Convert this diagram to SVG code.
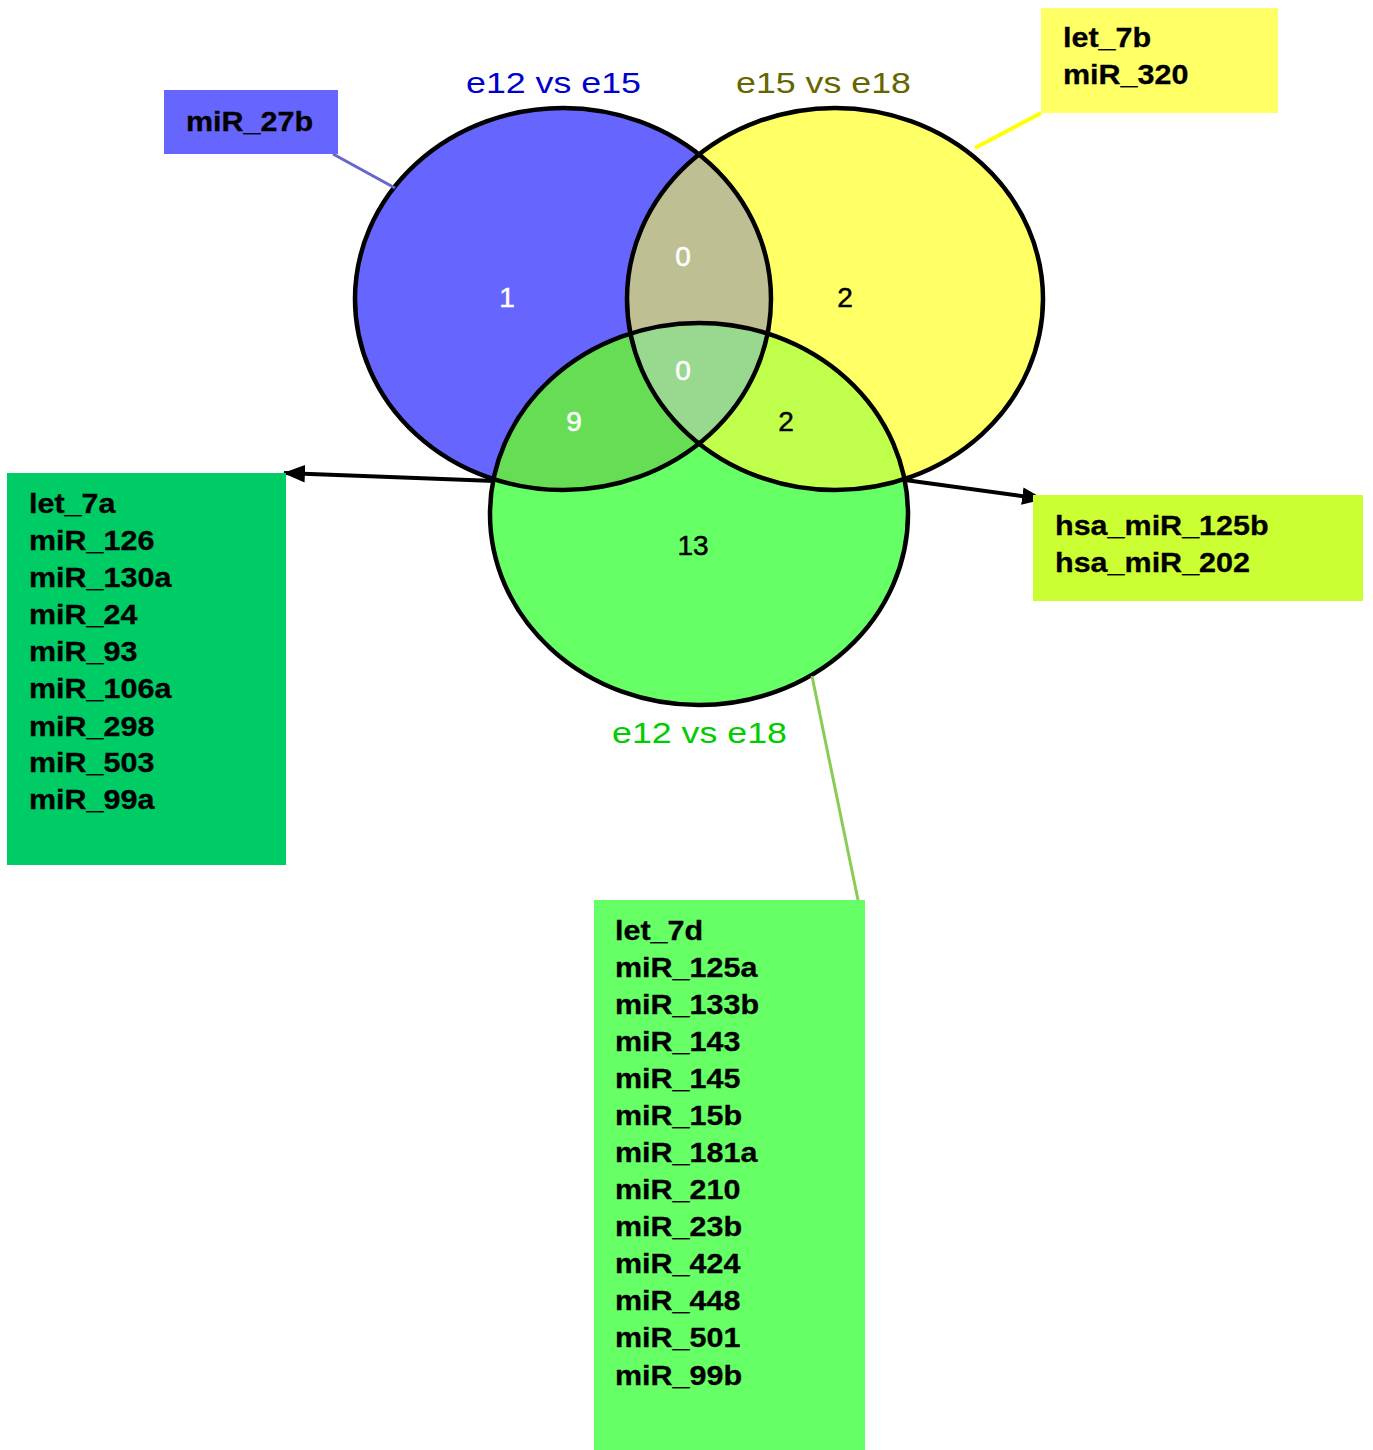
<svg xmlns="http://www.w3.org/2000/svg" width="1373" height="1450" viewBox="0 0 1373 1450">
<style>
.lbl{font-family:"Liberation Sans",Arial,sans-serif;font-weight:bold;font-size:28px;fill:#000;stroke:#000;stroke-width:0.3}
.vl{font-family:"Liberation Sans",Arial,sans-serif;font-size:30px}
.num{font-family:"Liberation Sans",Arial,sans-serif;font-size:28px;text-anchor:middle;stroke-width:0.5}
.ring{fill:none;stroke:#000;stroke-width:4.5}
</style>
<defs>
<clipPath id="cb"><ellipse cx="563" cy="299" rx="208" ry="191"/></clipPath>
<clipPath id="cy"><ellipse cx="835" cy="299" rx="208" ry="191"/></clipPath>
<marker id="ah" viewBox="0 0 10 8" refX="9.5" refY="4" markerWidth="5.5" markerHeight="4.4" orient="auto">
<path d="M0,0 L10,4 L0,8 z" fill="#000"/>
</marker>
</defs>
<rect width="1373" height="1450" fill="#fff"/>
<g id="venn">
<ellipse cx="563" cy="299" rx="208" ry="191" fill="#6666ff"/>
<ellipse cx="835" cy="299" rx="208" ry="191" fill="#ffff66"/>
<ellipse cx="699" cy="514" rx="209" ry="191" fill="#66ff66"/>
<ellipse cx="835" cy="299" rx="208" ry="191" fill="#bfbf94" clip-path="url(#cb)"/>
<ellipse cx="699" cy="514" rx="209" ry="191" fill="#66dd55" clip-path="url(#cb)"/>
<ellipse cx="699" cy="514" rx="209" ry="191" fill="#c0ff4c" clip-path="url(#cy)"/>
<g clip-path="url(#cy)"><ellipse cx="699" cy="514" rx="209" ry="191" fill="#99d98f" clip-path="url(#cb)"/></g>
<ellipse class="ring" cx="563" cy="299" rx="208" ry="191"/>
<ellipse class="ring" cx="835" cy="299" rx="208" ry="191"/>
<ellipse class="ring" cx="699" cy="514" rx="209" ry="191"/>
<text class="num" x="507" y="307" fill="#fff" stroke="#fff">1</text>
<text class="num" x="683" y="266" fill="#fff" stroke="#fff">0</text>
<text class="num" x="845" y="307" fill="#000" stroke="#000">2</text>
<text class="num" x="683" y="380" fill="#fff" stroke="#fff">0</text>
<text class="num" x="574" y="431" fill="#fff" stroke="#fff">9</text>
<text class="num" x="786" y="431" fill="#000" stroke="#000">2</text>
<text class="num" x="693" y="555" fill="#000" stroke="#000">13</text>
<text class="vl" x="466" y="93" fill="#0000cc" textLength="175" lengthAdjust="spacingAndGlyphs">e12 vs e15</text>
<text class="vl" x="736" y="93" fill="#666600" textLength="175" lengthAdjust="spacingAndGlyphs">e15 vs e18</text>
<text class="vl" x="612" y="743" fill="#00cc00" textLength="175" lengthAdjust="spacingAndGlyphs">e12 vs e18</text>
</g>
<g id="connectors">
<line x1="333" y1="154" x2="395" y2="188" stroke="#6666cc" stroke-width="3"/>
<line x1="1041" y1="113" x2="975" y2="148" stroke="#ffff00" stroke-width="4"/>
<line x1="812" y1="676" x2="858" y2="900" stroke="#88cc55" stroke-width="3"/>
<line x1="495" y1="481" x2="284" y2="473" stroke="#000" stroke-width="4" marker-end="url(#ah)"/>
<line x1="905" y1="480" x2="1043" y2="499" stroke="#000" stroke-width="4" marker-end="url(#ah)"/>
</g>
<g id="box-miR27b">
<rect x="164" y="90" width="174" height="64" fill="#6666ff"/>
<g transform="translate(186 0) scale(1.09 1)"><text class="lbl" x="0" y="131">miR_27b</text></g>
</g>
<g id="box-let7b">
<rect x="1041" y="8" width="237" height="105" fill="#ffff66"/>
<g transform="translate(1063 0) scale(1.09 1)">
<text class="lbl" x="0" y="47">let_7b</text>
<text class="lbl" x="0" y="84">miR_320</text>
</g>
</g>
<g id="box-left">
<rect x="7" y="473" width="279" height="392" fill="#00cc66"/>
<g transform="translate(29 0) scale(1.09 1)">
<text class="lbl" x="0" y="513">let_7a</text>
<text class="lbl" x="0" y="550">miR_126</text>
<text class="lbl" x="0" y="587">miR_130a</text>
<text class="lbl" x="0" y="624">miR_24</text>
<text class="lbl" x="0" y="661">miR_93</text>
<text class="lbl" x="0" y="698">miR_106a</text>
<text class="lbl" x="0" y="736">miR_298</text>
<text class="lbl" x="0" y="772">miR_503</text>
<text class="lbl" x="0" y="809">miR_99a</text>
</g>
</g>
<g id="box-right">
<rect x="1033" y="495" width="330" height="106" fill="#ccff33"/>
<g transform="translate(1055 0) scale(1.09 1)">
<text class="lbl" x="0" y="535">hsa_miR_125b</text>
<text class="lbl" x="0" y="572">hsa_miR_202</text>
</g>
</g>
<g id="box-bottom">
<rect x="594" y="900" width="271" height="550" fill="#66ff66"/>
<g transform="translate(615 0) scale(1.09 1)">
<text class="lbl" x="0" y="940">let_7d</text>
<text class="lbl" x="0" y="977">miR_125a</text>
<text class="lbl" x="0" y="1014">miR_133b</text>
<text class="lbl" x="0" y="1051">miR_143</text>
<text class="lbl" x="0" y="1088">miR_145</text>
<text class="lbl" x="0" y="1125">miR_15b</text>
<text class="lbl" x="0" y="1162">miR_181a</text>
<text class="lbl" x="0" y="1199">miR_210</text>
<text class="lbl" x="0" y="1236">miR_23b</text>
<text class="lbl" x="0" y="1273">miR_424</text>
<text class="lbl" x="0" y="1310">miR_448</text>
<text class="lbl" x="0" y="1347">miR_501</text>
<text class="lbl" x="0" y="1385">miR_99b</text>
</g>
</g>
</svg>
